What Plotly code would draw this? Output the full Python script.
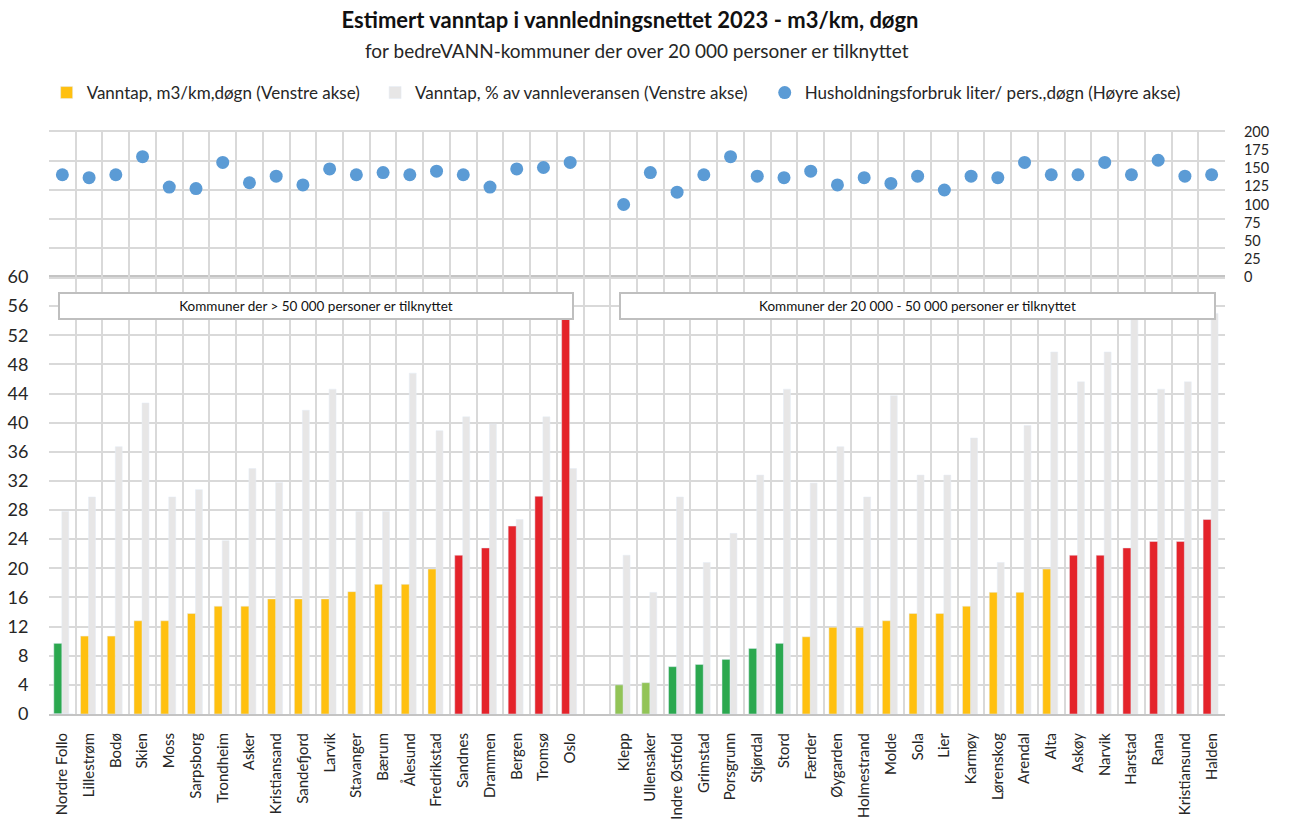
import plotly.graph_objects as go

# ---------------- data ----------------
left_names = ["Nordre Follo", "Lillestrøm", "Bodø", "Skien", "Moss", "Sarpsborg", "Trondheim", "Asker",
              "Kristiansand", "Sandefjord", "Larvik", "Stavanger", "Bærum", "Ålesund", "Fredrikstad",
              "Sandnes", "Drammen", "Bergen", "Tromsø", "Oslo"]
left_m3 = [9.7, 10.7, 10.7, 12.8, 12.8, 13.8, 14.8, 14.8, 15.8, 15.8, 15.8, 16.8, 17.8, 17.8, 19.9,
           21.8, 22.8, 25.8, 29.9, 57.0]
left_pct = [27.8, 29.8, 36.7, 42.7, 29.8, 30.8, 23.8, 33.7, 31.8, 41.7, 44.6, 27.8, 27.8, 46.8, 38.9,
            40.8, 39.8, 26.7, 40.8, 33.7]
left_hh = [141, 137, 141, 166, 124, 122, 158, 130, 139, 127, 149, 141, 144, 141, 146, 141, 124, 149, 151, 158]
left_class = ["green"] + ["yellow"] * 14 + ["red"] * 5

right_names = ["Klepp", "Ullensaker", "Indre Østfold", "Grimstad", "Porsgrunn", "Stjørdal", "Stord", "Færder",
               "Øygarden", "Holmestrand", "Molde", "Sola", "Lier", "Karmøy", "Lørenskog", "Arendal", "Alta",
               "Askøy", "Narvik", "Harstad", "Rana", "Kristiansund", "Halden"]
right_m3 = [4.0, 4.3, 6.5, 6.8, 7.5, 9.0, 9.7, 10.6, 11.9, 11.9, 12.8, 13.8, 13.8, 14.8, 16.7, 16.7, 19.9,
            21.8, 21.8, 22.8, 23.7, 23.7, 26.7]
right_pct = [21.8, 16.7, 29.8, 20.8, 24.8, 32.8, 44.6, 31.7, 36.7, 29.8, 43.7, 32.8, 32.8, 37.9, 20.8, 39.6,
             49.7, 45.6, 49.7, 56.0, 44.6, 45.6, 55.0]
right_hh = [100, 144, 117, 141, 166, 139, 137, 146, 127, 137, 129, 139, 120, 139, 137, 158, 141, 141, 158,
            141, 161, 139, 141]
right_class = ["lgreen"] * 2 + ["green"] * 5 + ["yellow"] * 10 + ["red"] * 6

left_tick_vals = list(range(0, 61, 4))
right_tick_vals = list(range(0, 201, 25))
top_grid_vals = [40, 80, 120, 160, 200]

# ---------------- styling ----------------
COLORS = {"green": "#2BA84F", "lgreen": "#92C457", "yellow": "#FFC010", "red": "#E4232A"}
GREY = "#E7E6E6"
BLUE = "#5B9BD5"
GRID = "#D9D9D9"
LINE = "#C4C4C4"
TXT = "#262626"
FONT = "Lato"

left_x = list(range(len(left_names)))
right_x = [len(left_names) + 1 + i for i in range(len(right_names))]
xs = left_x + right_x
names = left_names + right_names
m3 = left_m3 + right_m3
pct = left_pct + right_pct
hh = left_hh + right_hh
cols = [COLORS[c] for c in left_class + right_class]
n_slots = len(left_names) + 1 + len(right_names)

fig = go.Figure()

fig.add_trace(go.Bar(x=xs, y=pct, marker=dict(color=GREY),
                     width=0.26, offset=-0.02, name="Vanntap, % av vannleveransen (Venstre akse)",
                     legend="legend2", xaxis="x", yaxis="y"))
fig.add_trace(go.Bar(x=xs, y=m3, marker=dict(color=cols),
                     width=0.30, offset=-0.32, showlegend=False, xaxis="x", yaxis="y"))
# legend proxy for the coloured bars
fig.add_trace(go.Bar(x=[xs[0]], y=[0], marker=dict(color=COLORS["yellow"]),
                     name="Vanntap, m3/km,døgn (Venstre akse)", legend="legend", xaxis="x", yaxis="y",
                     hoverinfo="skip"))
fig.add_trace(go.Scatter(x=xs, y=hh, mode="markers", marker=dict(color=BLUE, size=13),
                         name="Husholdningsforbruk liter/ pers.,døgn (Høyre akse)",
                         legend="legend3", xaxis="x2", yaxis="y2"))

split = 0.7509
xrange = [-0.5, n_slots - 0.5]
minor_grid = dict(tickmode="linear", tick0=-0.5, dtick=1, showgrid=True, gridcolor=GRID, gridwidth=2)
legend_font = dict(size=17, family=FONT, color=TXT)

fig.update_layout(
    width=1289, height=822,
    margin=dict(l=49, r=64, t=132, b=108),
    paper_bgcolor="white", plot_bgcolor="white",
    font=dict(family=FONT, color=TXT),
    barmode="overlay",
    title=dict(text="<b>Estimert vanntap i vannledningsnettet 2023 - m3/km, døgn</b>",
               x=630 / 1289, xanchor="center", y=1 - 20 / 822, yanchor="middle",
               font=dict(size=22, family=FONT, color="#111111")),
    xaxis=dict(domain=[0, 1], anchor="y", range=xrange, tickmode="array", tickvals=xs, ticktext=names,
               tickangle=-90, tickfont=dict(size=15, family=FONT, color=TXT), showgrid=False,
               minor=minor_grid, ticks="outside", ticklen=11, tickcolor="rgba(0,0,0,0)",
               showline=True, linecolor=LINE, linewidth=2, mirror=True, zeroline=False,
               automargin=False),
    yaxis=dict(domain=[0, split], anchor="x", range=[0, 60], tickmode="array", tickvals=left_tick_vals,
               showgrid=True, gridcolor=GRID, gridwidth=2, zeroline=False,
               tickfont=dict(size=18, family=FONT, color=TXT), ticks="outside", ticklen=16,
               tickcolor="rgba(0,0,0,0)", automargin=False),
    xaxis2=dict(domain=[0, 1], anchor="y2", range=xrange, showticklabels=False,
                showgrid=False, minor=minor_grid, showline=True, linecolor=GRID, linewidth=2,
                mirror=True, zeroline=False, automargin=False),
    yaxis2=dict(domain=[split, 1], anchor="x2", side="right", range=[0, 200], tickmode="array",
                tickvals=right_tick_vals, showgrid=False, zeroline=False,
                minor=dict(tickmode="array", tickvals=top_grid_vals, showgrid=True, gridcolor=GRID,
                           gridwidth=2),
                tickfont=dict(size=14.5, family=FONT, color=TXT), ticks="outside", ticklen=15,
                tickcolor="rgba(0,0,0,0)", automargin=False),
    legend=dict(orientation="h", x=-0.002, y=1.067, xanchor="left", yanchor="middle",
                font=legend_font, bgcolor="rgba(0,0,0,0)"),
    legend2=dict(orientation="h", x=0.2773, y=1.067, xanchor="left", yanchor="middle",
                 font=legend_font, bgcolor="rgba(0,0,0,0)"),
    legend3=dict(orientation="h", x=0.6086, y=1.067, xanchor="left", yanchor="middle",
                 font=legend_font, bgcolor="rgba(0,0,0,0)"),
    annotations=[
        dict(text="for bedreVANN-kommuner der over 20 000 personer er tilknyttet", xref="paper",
             yref="paper", x=0.5, y=(714 - 50) / 582, xanchor="center", yanchor="middle",
             showarrow=False, font=dict(size=19, family=FONT, color=TXT)),
        dict(text="Kommuner der > 50 000 personer er tilknyttet", xref="x", yref="y",
             x=(left_x[0] + left_x[-1]) / 2, y=55.96, showarrow=False, width=510, height=22,
             bgcolor="white", bordercolor="#BFBFBF", borderwidth=2,
             font=dict(size=13.5, family=FONT, color="#111111")),
        dict(text="Kommuner der 20 000 - 50 000 personer er tilknyttet", xref="x", yref="y",
             x=(right_x[0] + right_x[-1]) / 2, y=55.96, showarrow=False, width=591, height=22,
             bgcolor="white", bordercolor="#BFBFBF", borderwidth=2,
             font=dict(size=13.5, family=FONT, color="#111111")),
    ],
)

fig.write_html("out.html", config={"displayModeBar": False},
               post_script="document.body.style.margin='0px';")
